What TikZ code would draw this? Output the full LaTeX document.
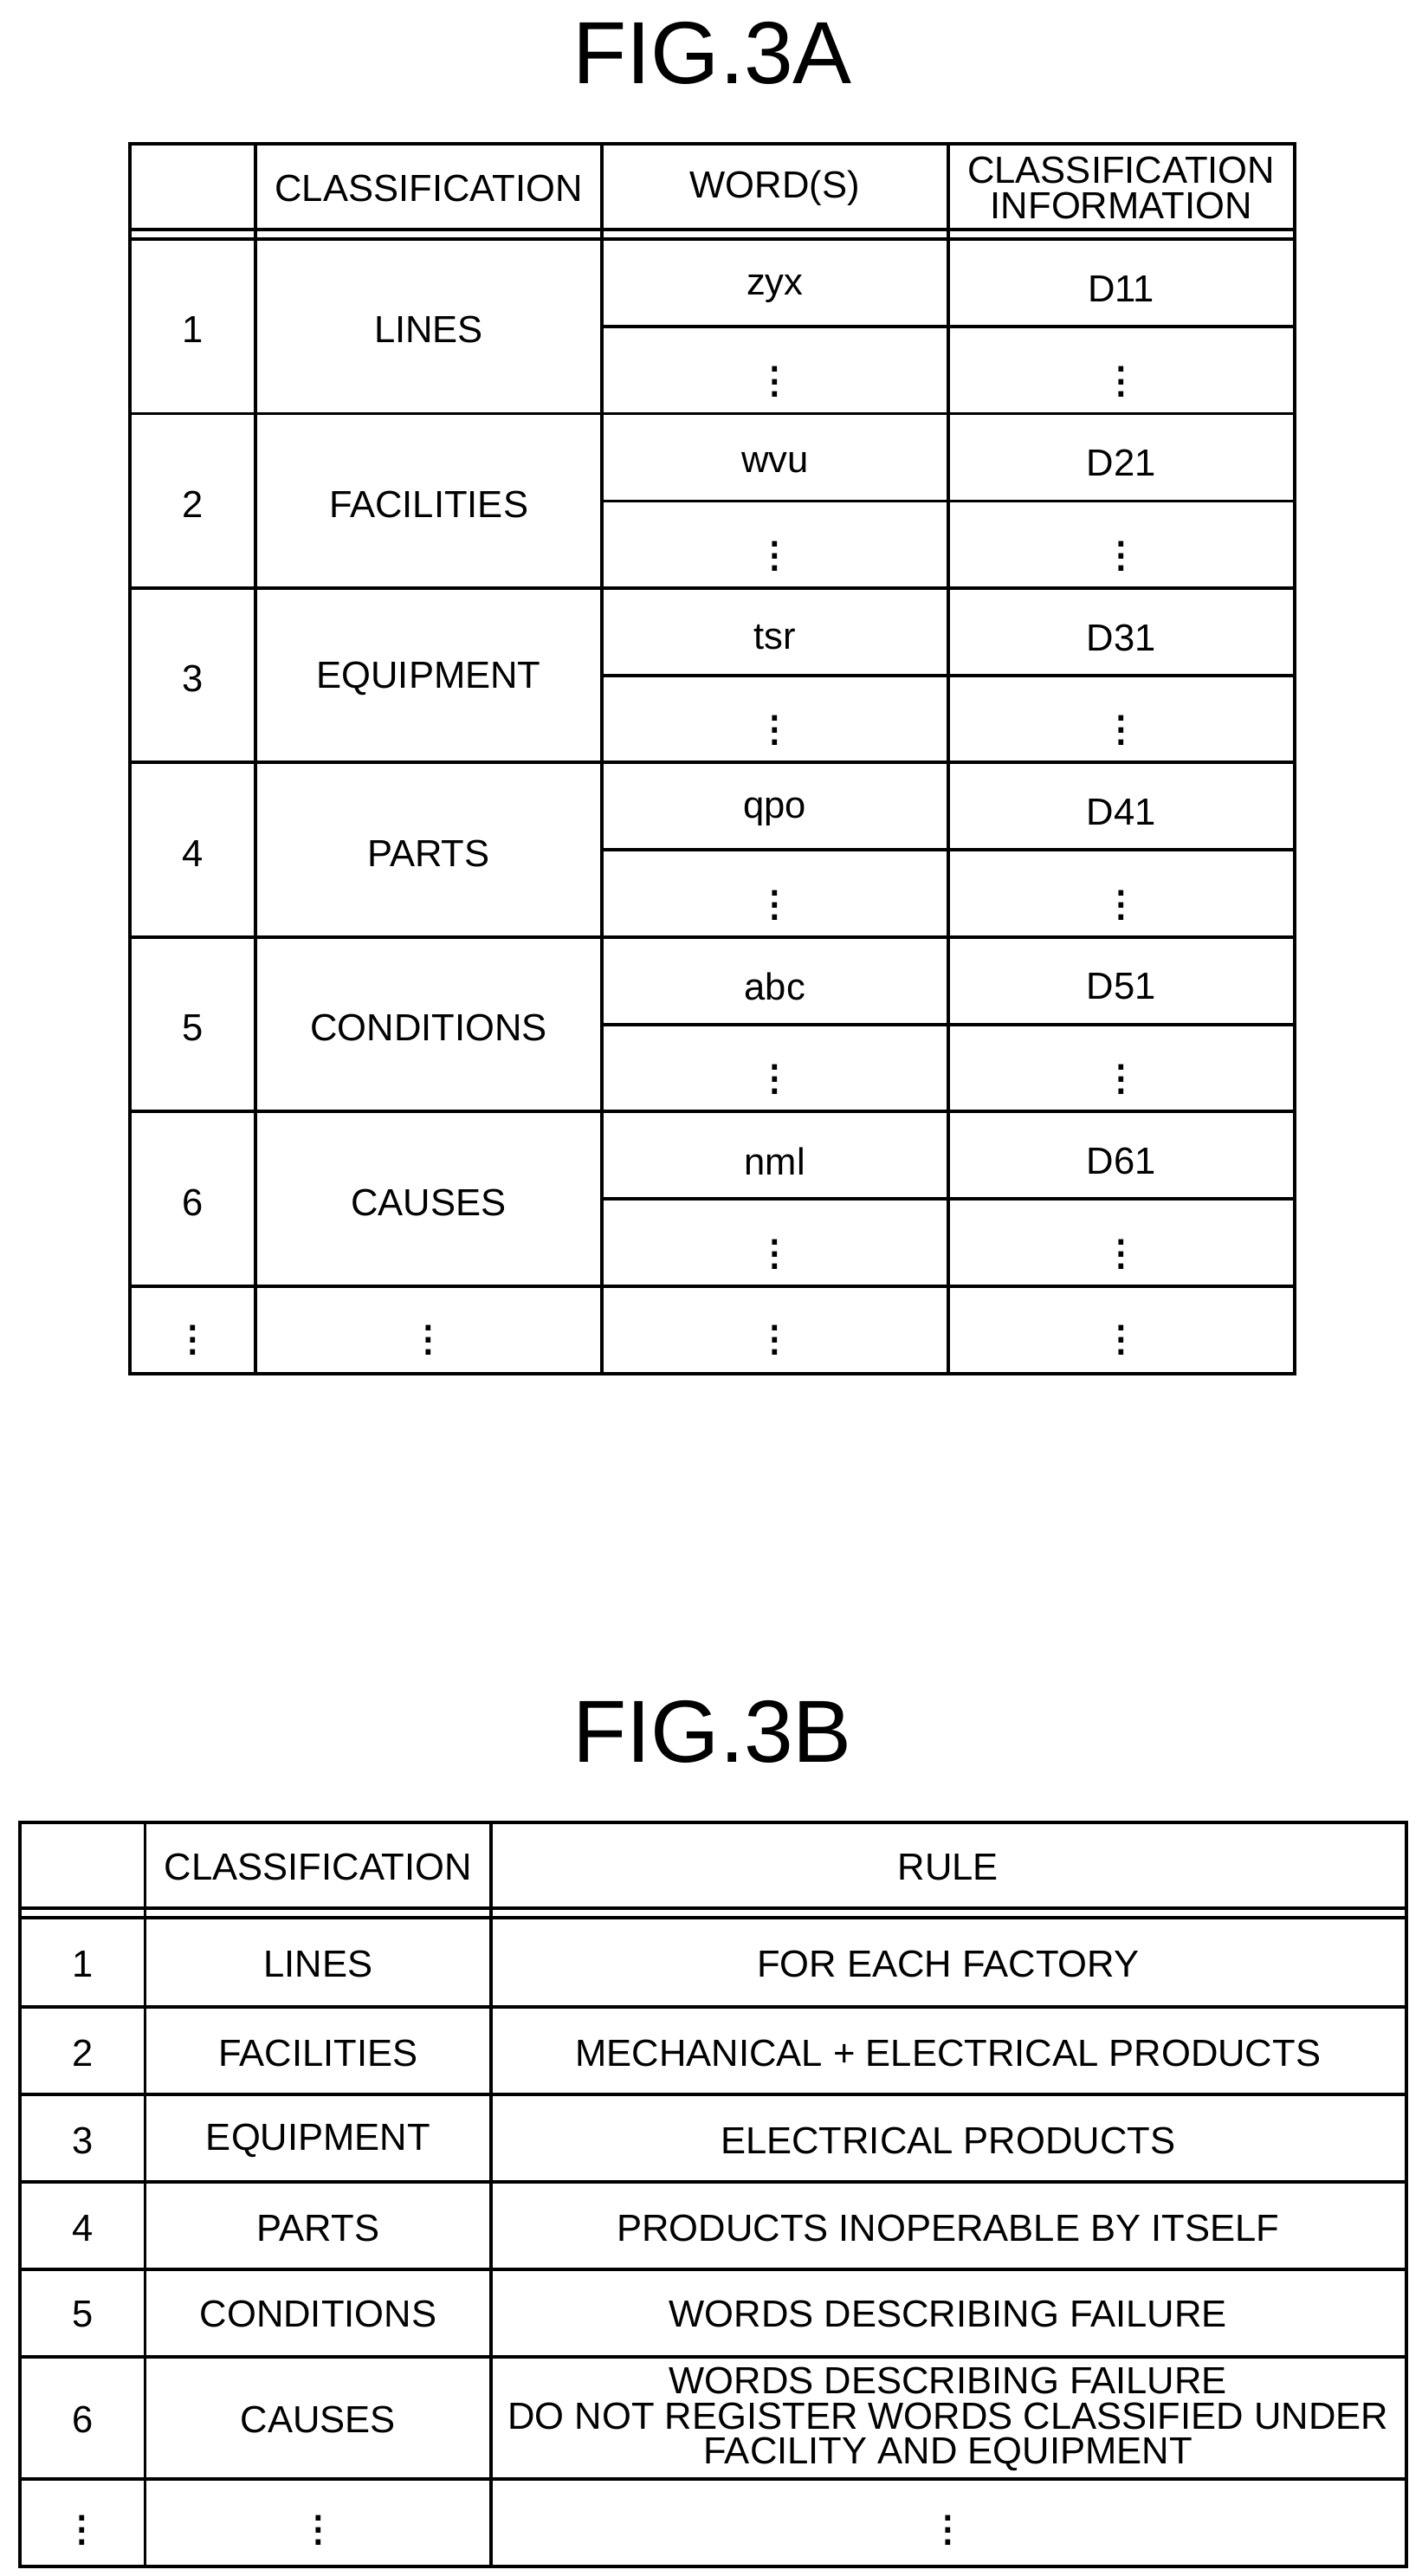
\documentclass[tikz,border=0pt]{standalone}
\usepackage{fontspec}
\setmainfont{Liberation Sans}
\usetikzlibrary{positioning}

\tikzset{
  grid/.style={line width=1.1pt},
  cell/.style={font=\fontsize{12.4}{13}\selectfont, align=center, inner sep=0pt},
  dots/.style={font=\fontsize{17}{17}\selectfont, inner sep=0pt},
  figtitle/.style={font=\fontsize{29}{30}\selectfont, inner sep=0pt}
}
\newcommand{\vd}{$\vdots$}

\begin{document}
\begin{tikzpicture}[x=0.01904cm,y=-0.01904cm]
   \useasboundingbox (0,0) rectangle (862,1562);
   % FIG.3A
   \node[figtitle] (titleA) at (432,32) {FIG.3A};
   \draw[grid] (79,87) rectangle (785,833);
   \foreach \x in {155,365,575} \draw[grid] (\x,87) -- (\x,833);
   \draw[grid] (79,139) -- (785,139);
   \draw[grid] (79,145) -- (785,145);
   \foreach \i in {1,...,6} \draw[grid] (79,{145+\i*105.8}) -- (785,{145+\i*105.8});
   \foreach \i in {0,...,5} \draw[grid] (365,{198+\i*105.8}) -- (785,{198+\i*105.8});
   \node[cell] (hA1) at (260,114) {CLASSIFICATION};
   \node[cell] (hA2) at (470,114) {WORD(S)};
   \node[cell] (hA3) at (680,114) {CLASSIFICATION\\[-1.5pt]INFORMATION};
   \foreach \n/\c/\w/\d [count=\i from 0] in {1/LINES/zyx/D11, 2/FACILITIES/wvu/D21,
       3/EQUIPMENT/tsr/D31, 4/PARTS/qpo/D41, 5/CONDITIONS/abc/D51, 6/CAUSES/nml/D61}{
     \node[cell] (numA\n) at (117,{200+\i*105.8}) {\n};
     \node[cell] (clsA\n) at (260,{200+\i*105.8}) {\c};
     \node[cell] (wrdA\n) at (470,{175+\i*105.8}) {\w};
     \node[cell] (infA\n) at (680,{175+\i*105.8}) {\d};
     \node[dots] (wdtA\n) at (470,{226+\i*105.8}) {\vd};
     \node[dots] (idtA\n) at (680,{226+\i*105.8}) {\vd};
   }
   \foreach \x [count=\j] in {117,260,470,680} \node[dots] (endA\j) at (\x,807) {\vd};
   % FIG.3B
   \node[figtitle] (titleB) at (432,1050) {FIG.3B};
   \draw[grid] (12,1105) rectangle (853,1556);
   \foreach \x in {88,298} \draw[grid] (\x,1105) -- (\x,1556);
   \draw[grid] (12,1157) -- (853,1157);
   \draw[grid] (12,1163) -- (853,1163);
   \foreach \y in {1217,1270,1323,1376,1429,1503} \draw[grid] (12,\y) -- (853,\y);
   \node[cell] (hB1) at (193,1132) {CLASSIFICATION};
   \node[cell] (hB2) at (575,1132) {RULE};
   \foreach \n/\c/\r/\y in {1/LINES/FOR EACH FACTORY/1191, 2/FACILITIES/MECHANICAL + ELECTRICAL PRODUCTS/1245,
       3/EQUIPMENT/ELECTRICAL PRODUCTS/1298, 4/PARTS/PRODUCTS INOPERABLE BY ITSELF/1351,
       5/CONDITIONS/WORDS DESCRIBING FAILURE/1403}{
     \node[cell] (numB\n) at (50,\y) {\n};
     \node[cell] (clsB\n) at (193,\y) {\c};
     \node[cell] (rulB\n) at (575,\y) {\r};
   }
   \node[cell] (numB6) at (50,1467) {6};
   \node[cell] (clsB6) at (193,1467) {CAUSES};
   \node[cell] (rulB6) at (575,1467) {WORDS DESCRIBING FAILURE\\[-1.5pt]DO NOT REGISTER WORDS CLASSIFIED UNDER\\[-1.5pt]FACILITY AND EQUIPMENT};
   \foreach \x [count=\j] in {50,193,575} \node[dots] (endB\j) at (\x,1529) {\vd};
\end{tikzpicture}
\end{document}
